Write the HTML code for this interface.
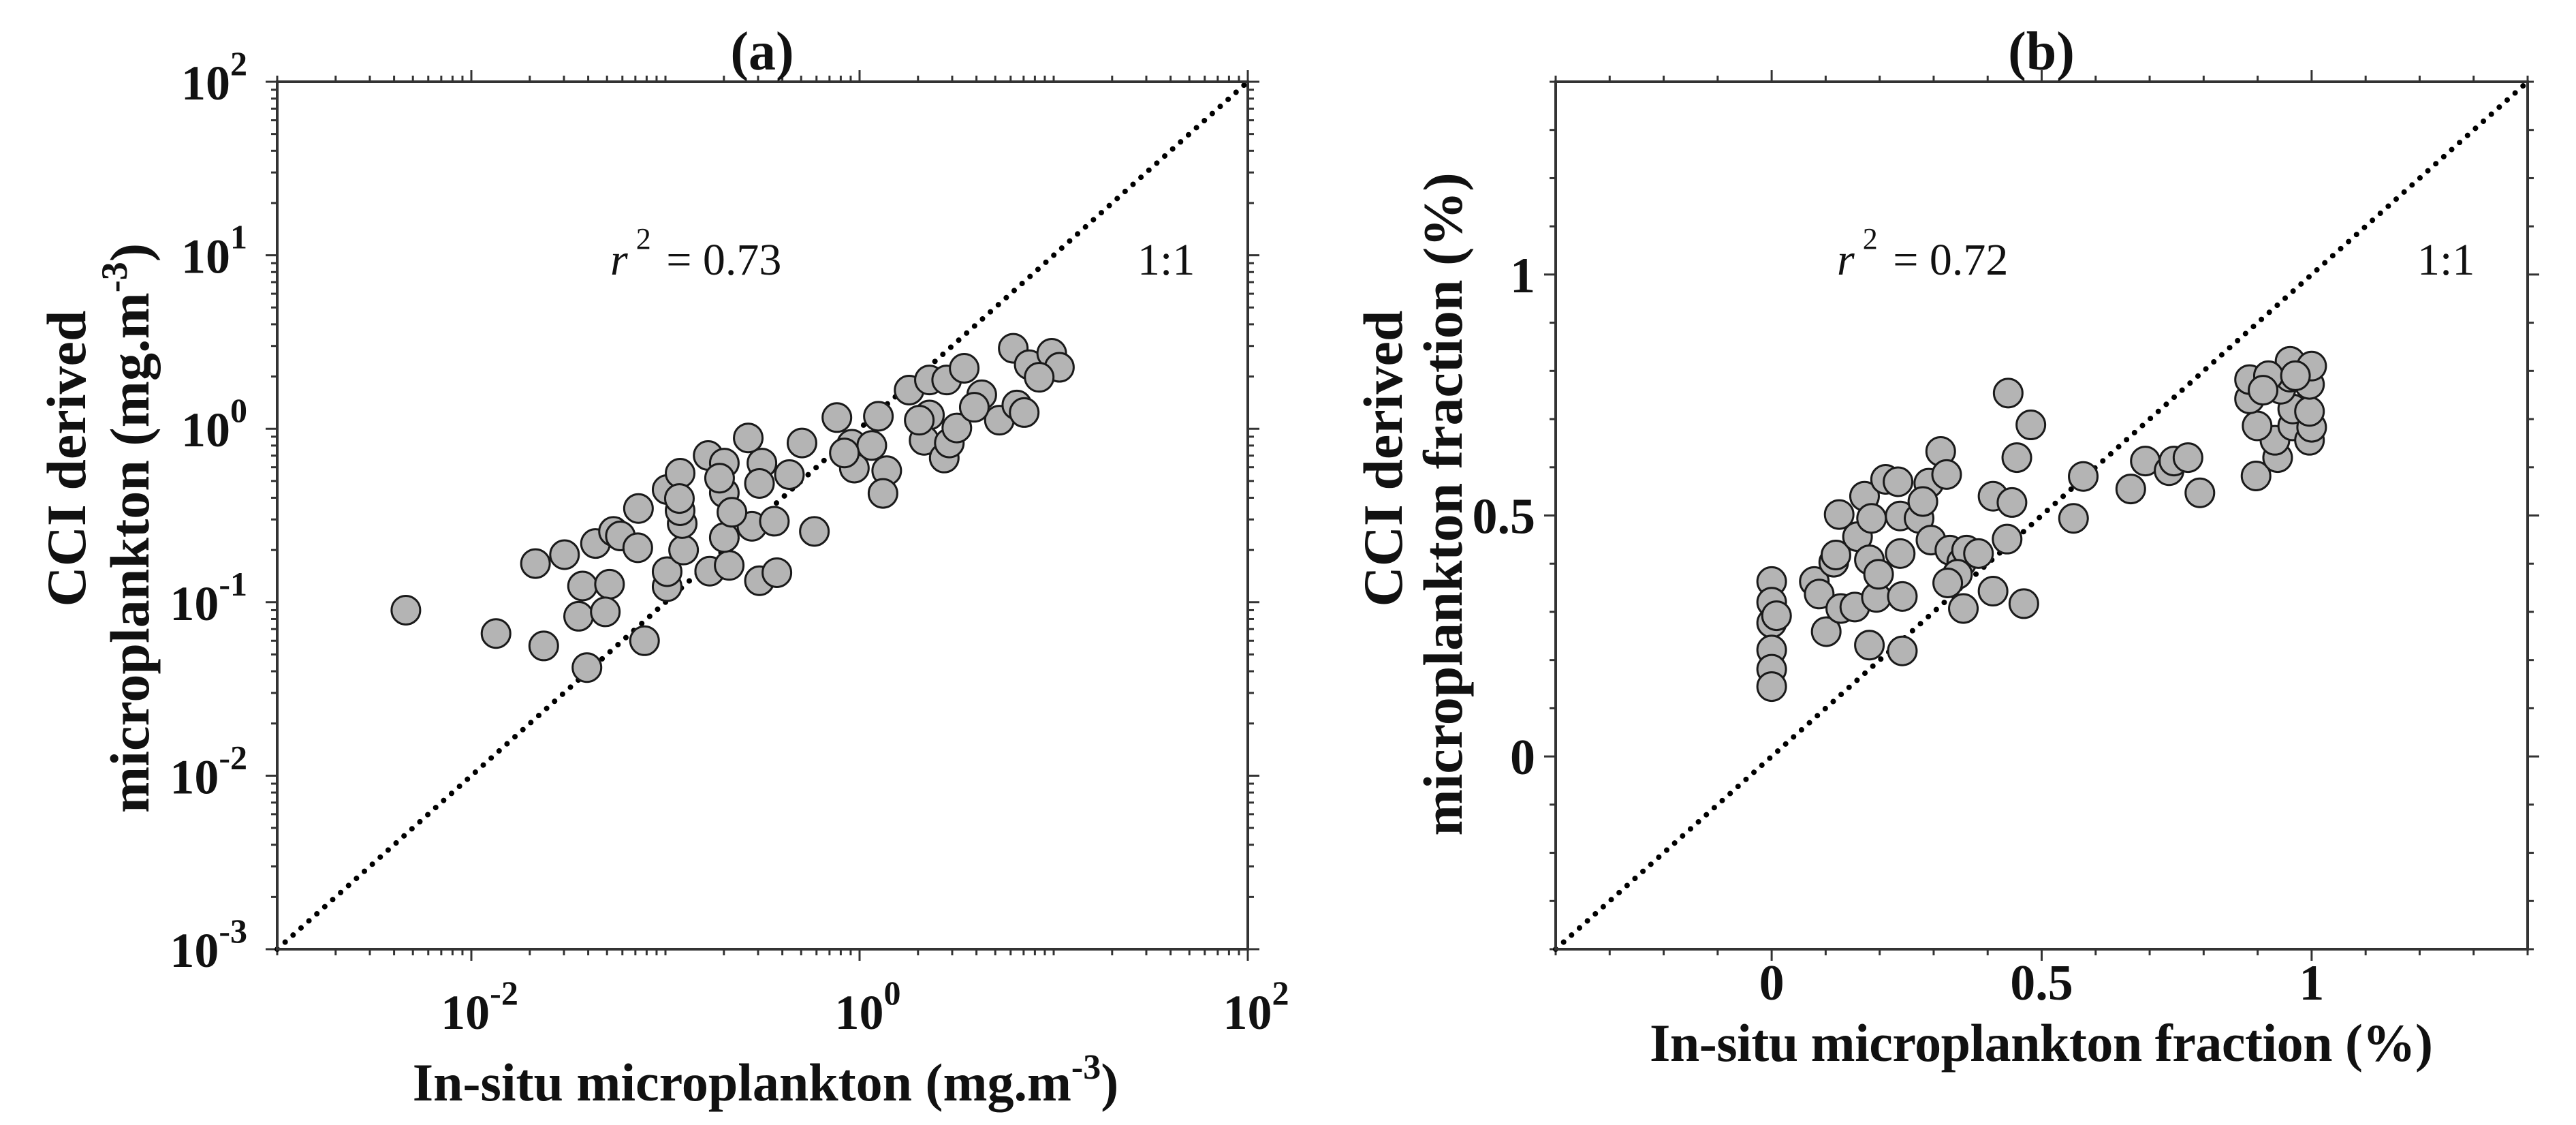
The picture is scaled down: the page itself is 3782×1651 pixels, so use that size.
<!DOCTYPE html>
<html><head><meta charset="utf-8">
<style>
html,body{margin:0;padding:0;background:#fff;}
svg{display:block;}
text{font-family:"Liberation Serif",serif;fill:#111;}
.b{font-weight:bold;}
</style></head>
<body>
<svg id="fig" width="3782" height="1651" viewBox="0 0 3782 1651" xmlns="http://www.w3.org/2000/svg">
  <rect x="0" y="0" width="3782" height="1651" fill="#fff"/>
  <g id="pa"></g>
  <g id="pb"></g>
  <text class="b" x="1119" y="102" font-size="80" text-anchor="middle">(a)</text>
  <text class="b" x="2997" y="102" font-size="80" text-anchor="middle">(b)</text>
  <text x="896" y="403" font-size="66"><tspan font-style="italic">r</tspan><tspan dx="12" dy="-38" font-size="44">2</tspan><tspan dy="38" dx="6"> = 0.73</tspan></text>
  <text x="1670" y="403" font-size="66">1:1</text>
  <text x="2697" y="403" font-size="66"><tspan font-style="italic">r</tspan><tspan dx="12" dy="-38" font-size="44">2</tspan><tspan dy="38" dx="6"> = 0.72</tspan></text>
  <text x="3549" y="403" font-size="66">1:1</text>
  <text class="b" x="1124" y="1615" font-size="78" text-anchor="middle">In-situ microplankton (mg.m<tspan dy="-32" font-size="52">-3</tspan><tspan dy="32">)</tspan></text>
  <text class="b" x="2997" y="1557" font-size="78" text-anchor="middle" textLength="1150">In-situ microplankton fraction (%)</text>
  <text class="b" font-size="82" text-anchor="middle" transform="translate(125,673) rotate(-90)">CCI derived</text>
  <text class="b" font-size="82" text-anchor="middle" transform="translate(218,775) rotate(-90)">microplankton (mg.m<tspan dy="-32" font-size="54">-3</tspan><tspan dy="32">)</tspan></text>
  <text class="b" font-size="82" text-anchor="middle" transform="translate(2058,673) rotate(-90)">CCI derived</text>
  <text class="b" font-size="82" text-anchor="middle" transform="translate(2146,740) rotate(-90)">microplankton fraction (%)</text>
</svg>
<script>
const aInsitu = [0.0046,0.0134,0.0214,0.0302,0.0236,0.0394,0.0374,0.0515,0.0357,0.049,0.078,0.0436,0.054,0.0586,0.072,0.0726,0.102,0.102,0.124,0.122,0.119,0.102,0.119,0.166,0.201,0.201,0.169,0.213,0.201,0.279,0.364,0.220,0.305,0.375,0.585,0.314,0.267,0.305,0.435,0.505,0.764,0.912,1.156,0.94,1.38,1.32,1.25,1.80,2.29,2.81,3.46,4.26,2.29,2.15,2.73,2.90,3.17,5.25,6.46,7.05,6.19,7.48,9.77,10.7,8.42,3.90,0.835,0.190,0.118,2.03];
const aCci = [0.09,0.066,0.167,0.188,0.056,0.042,0.124,0.127,0.083,0.088,0.060,0.218,0.256,0.241,0.206,0.347,0.123,0.150,0.200,0.284,0.337,0.446,0.554,0.701,0.634,0.427,0.151,0.163,0.236,0.274,0.293,0.330,0.133,0.148,0.256,0.634,0.885,0.484,0.544,0.828,1.16,0.814,0.801,0.593,0.573,0.424,1.18,1.67,1.91,1.91,2.23,1.57,1.20,0.857,0.678,0.828,1.01,1.12,1.37,1.24,2.91,2.34,2.72,2.26,1.98,1.33,0.725,0.519,0.396,1.12];
const aTickExp = [-3,-2,-1,0,1,2];
const aXLabelExp = [-2,0,2];

const bInsitu = [0.00,0.00,0.00,0.00,0.00,0.00,0.009,0.079,0.088,0.115,0.119,0.101,0.128,0.154,0.159,0.125,0.172,0.185,0.181,0.242,0.194,0.242,0.181,0.198,0.238,0.211,0.234,0.238,0.273,0.291,0.280,0.313,0.324,0.295,0.330,0.352,0.361,0.383,0.344,0.326,0.355,0.410,0.467,0.436,0.410,0.445,0.454,0.480,0.438,0.559,0.577,0.665,0.692,0.736,0.745,0.771,0.793,0.897,0.937,0.932,0.899,0.965,0.996,1.000,0.965,0.996,0.885,0.885,0.943,0.996,0.960,0.96,1.0,0.92,0.97,0.91];
const bCci = [0.363,0.320,0.277,0.221,0.181,0.145,0.292,0.363,0.337,0.403,0.418,0.259,0.307,0.310,0.456,0.502,0.540,0.494,0.231,0.219,0.330,0.332,0.408,0.378,0.421,0.575,0.570,0.499,0.494,0.567,0.529,0.633,0.585,0.449,0.428,0.403,0.428,0.421,0.378,0.360,0.307,0.343,0.317,0.451,0.540,0.527,0.620,0.688,0.754,0.494,0.581,0.555,0.613,0.593,0.613,0.620,0.547,0.582,0.620,0.656,0.686,0.686,0.656,0.683,0.721,0.716,0.742,0.782,0.762,0.772,0.787,0.82,0.81,0.79,0.79,0.76];
const bTicks = [0,0.5,1];
const bTickLabels = ["0","0.5","1"];

const NS = "http://www.w3.org/2000/svg";
function mk(parent, tag, attrs){ const e=document.createElementNS(NS,tag); for(const k in attrs) e.setAttribute(k,attrs[k]); parent.appendChild(e); return e; }

const A = {l:407,r:1832,t:120,b:1393};
const B = {l:2284,r:3711,t:120,b:1393};
const axXa = v => A.l + (Math.log10(v)+3)/5*(A.r-A.l);
const axYa = v => A.b - (Math.log10(v)+3)/5*(A.b-A.t);
const axXb = v => B.l + (v+0.4)/1.8*(B.r-B.l);
const axYb = v => B.b - (v+0.4)/1.8*(B.b-B.t);

const pa = document.getElementById('pa');
const pb = document.getElementById('pb');

function drawTicks(g, box, xs, ys, xMajor, yMajor){
  const col="#333";
  xs.forEach((x,i)=>{
    const L = xMajor[i]?17:9;
    const t1 = mk(g,'line',{x1:x,x2:x,y1:box.b,y2:box.b+L,stroke:col,'stroke-width':3});
    
    
    const t2 = mk(g,'line',{x1:x,x2:x,y1:box.t,y2:box.t-L,stroke:col,'stroke-width':3});
    
    
  });
  ys.forEach((y,i)=>{
    const L = yMajor[i]?17:9;
    const t1 = mk(g,'line',{x1:box.l,x2:box.l-L,y1:y,y2:y,stroke:col,'stroke-width':3});
    
    
    const t2 = mk(g,'line',{x1:box.r,x2:box.r+L,y1:y,y2:y,stroke:col,'stroke-width':3});
    
    
  });
}

function drawPanel(g, box, xs, ys, sx, sy, lineFrom, lineTo, tag){
  const ln = mk(g,'line',{x1:sx(lineFrom),y1:sy(lineFrom),x2:sx(lineTo),y2:sy(lineTo),stroke:'#000','stroke-width':8,'stroke-dasharray':'0.1 15.5','stroke-linecap':'round'});
  
  
  xs.forEach((v,i)=>{
    const c = mk(g,'circle',{cx:sx(v),cy:sy(ys[i]),r:21,fill:'#b4b4b4',stroke:'#1a1a1a','stroke-width':3});
    
    
  });
  const frame = mk(g,'rect',{x:box.l,y:box.t,width:box.r-box.l,height:box.b-box.t,fill:'none',stroke:'#333','stroke-width':4});
  
  
}

{
  const xs=[],xm=[],ys=[],ym=[];
  for(let e=-3;e<2;e++){ for(let m=1;m<10;m++){ const v=m*Math.pow(10,e);
    xs.push(axXa(v)); xm.push(m===1 && aXLabelExp.includes(e));
    ys.push(axYa(v)); ym.push(m===1); } }
  xs.push(axXa(100)); xm.push(true); ys.push(axYa(100)); ym.push(true);
  drawTicks(pa,A,xs,ys,xm,ym);
  drawPanel(pa,A,aInsitu,aCci,axXa,axYa,0.001,100,'a');
  aTickExp.forEach(e=>{
    const t = mk(pa,'text',{x:363,y:axYa(Math.pow(10,e))+26,'font-size':72,'text-anchor':'end','class':'b'});
    
    
    t.innerHTML = '10<tspan dy="-36" font-size="50">'+e+'</tspan>';
  });
  aXLabelExp.forEach(e=>{
    const t = mk(pa,'text',{x:axXa(Math.pow(10,e))+12,y:1510,'font-size':72,'text-anchor':'middle','class':'b'});
    
    
    t.innerHTML = '10<tspan dy="-36" font-size="50">'+e+'</tspan>';
  });
}
{
  const xs=[],xm=[],ys=[],ym=[];
  for(let k=-4;k<=14;k++){ const v=k/10;
    const maj = bTicks.some(t=>Math.abs(t-v)<1e-9);
    xs.push(axXb(v)); xm.push(maj); ys.push(axYb(v)); ym.push(maj); }
  drawTicks(pb,B,xs,ys,xm,ym);
  drawPanel(pb,B,bInsitu,bCci,axXb,axYb,-0.4,1.4,'b');
  bTicks.forEach((v,i)=>{
    const t = mk(pb,'text',{x:axXb(v),y:1467,'font-size':74,'text-anchor':'middle','class':'b'});
    
    
    t.textContent = bTickLabels[i];
    const u = mk(pb,'text',{x:2254,y:axYb(v)+26,'font-size':74,'text-anchor':'end','class':'b'});
    
    
    u.textContent = bTickLabels[i];
  });
}
</script>
</body></html>
